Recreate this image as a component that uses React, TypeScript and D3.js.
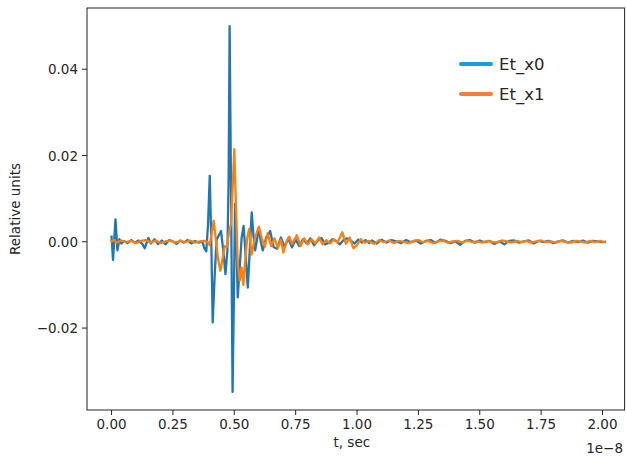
import React from "react";
import * as d3 from "d3";

// time in units of 1e-8 s, value in relative units
const etX0: [number, number][] = [
  [0.0, 0.0012], [0.006, -0.0042], [0.016, 0.0052], [0.024, -0.002], [0.032, 0.0006], [0.04, -0.0004],
  [0.05, 0.0002], [0.065, -0.0003], [0.08, 0.0004], [0.095, -0.0002], [0.11, 0.0003], [0.125, -0.0005],
  [0.135, -0.0015], [0.15, 0.0009], [0.16, -0.0004], [0.175, 0.0006], [0.19, -0.0005], [0.205, 0.0003],
  [0.22, -0.0006], [0.235, 0.0004], [0.25, 0.0001], [0.265, -0.0005], [0.28, 0.0003], [0.295, -0.0002],
  [0.31, 0.0004], [0.325, -0.0004], [0.34, 0.0002], [0.355, -0.0002], [0.37, 0.0001],
  [0.378, -0.0015], [0.386, -0.0022], [0.393, 0.004], [0.4, 0.0153], [0.406, 0.001], [0.412, -0.0187],
  [0.42, -0.008], [0.428, 0.0005], [0.446, 0.0025], [0.455, -0.002], [0.464, -0.0075], [0.472, -0.002],
  [0.477, 0.015], [0.481, 0.05], [0.487, 0.01], [0.493, -0.0348], [0.499, -0.01], [0.503, 0.0088],
  [0.508, 0.002], [0.514, -0.0129], [0.522, -0.006], [0.53, 0.001], [0.538, 0.0037], [0.546, -0.003],
  [0.555, -0.0106], [0.563, -0.002], [0.571, 0.0068], [0.578, 0.0015], [0.585, -0.002], [0.594, 0.001],
  [0.6, 0.0033], [0.608, 0.0], [0.616, -0.002], [0.63, 0.001], [0.646, 0.0025], [0.66, -0.0012],
  [0.674, -0.0016], [0.69, 0.001], [0.705, -0.0012], [0.72, 0.0008], [0.735, -0.0013], [0.75, 0.0005],
  [0.765, -0.001], [0.78, 0.0006], [0.795, -0.0004], [0.81, 0.0008], [0.825, -0.0008], [0.84, 0.0003],
  [0.855, 0.0009], [0.87, -0.0006], [0.885, -0.0002], [0.9, 0.0006], [0.915, 0.0002], [0.93, -0.0006],
  [0.945, 0.0004], [0.96, 0.0008], [0.975, 0.0002], [0.99, -0.0004], [1.005, 0.0005], [1.02, -0.0002],
  [1.035, 0.0004], [1.05, -0.0003],
  [1.06, 0.0003], [1.08, -0.0004], [1.1, 0.0005], [1.12, -0.0002], [1.14, 0.0004], [1.16, 0.0001],
  [1.18, -0.0003], [1.2, 0.0004], [1.22, -0.0001], [1.24, 0.0003], [1.26, -0.0004], [1.28, 0.0002],
  [1.3, 0.0004], [1.32, -0.0002], [1.34, 0.0005], [1.36, 0.0002], [1.38, -0.0003], [1.4, 0.0001],
  [1.42, -0.0007], [1.44, 0.0002], [1.46, 0.0004], [1.48, -0.0002], [1.5, 0.0003], [1.52, -0.0001],
  [1.54, 0.0002], [1.56, -0.0005], [1.58, 0.0001], [1.6, -0.0006], [1.62, 0.0002], [1.64, 0.0003],
  [1.66, -0.0002], [1.68, 0.0001], [1.7, 0.0003], [1.72, -0.0004], [1.74, 0.0002], [1.76, -0.0001],
  [1.78, 0.0002], [1.8, -0.0003], [1.82, 0.0001], [1.84, 0.0003], [1.86, -0.0002], [1.88, 0.0002],
  [1.9, -0.0001], [1.92, 0.0003], [1.94, -0.0002], [1.96, 0.0002], [1.98, 0.0001], [2.0, -0.0001], [2.01, 0.0],
];

const etX1: [number, number][] = [
  [0.0, 0.0001], [0.01, 0.0004], [0.02, -0.0002], [0.04, 0.0003], [0.06, -0.0001], [0.08, 0.0002],
  [0.1, -0.0003], [0.12, 0.0002], [0.14, 0.0004], [0.16, -0.0002], [0.18, 0.0003], [0.2, -0.0003],
  [0.22, 0.0001], [0.24, 0.0003], [0.26, -0.0002], [0.28, 0.0002], [0.3, -0.0001], [0.32, 0.0003],
  [0.34, -0.0002], [0.36, 0.0001], [0.38, 0.0002], [0.39, 0.0],
  [0.4, -0.0008], [0.408, 0.002], [0.416, 0.0049], [0.424, 0.001], [0.434, -0.004], [0.443, -0.0067],
  [0.452, -0.004], [0.461, -0.001], [0.47, -0.0012], [0.478, 0.002], [0.486, 0.004], [0.493, 0.012],
  [0.5, 0.0215], [0.507, 0.008], [0.514, -0.005], [0.522, -0.009], [0.53, -0.006], [0.537, -0.01],
  [0.545, -0.004], [0.553, 0.001], [0.561, 0.003], [0.57, -0.003], [0.585, 0.001], [0.6, 0.0035],
  [0.612, 0.0008], [0.624, -0.0012], [0.636, 0.002], [0.65, -0.001], [0.664, 0.0008], [0.678, -0.0015],
  [0.69, 0.0005], [0.7, -0.0025], [0.712, 0.0], [0.724, 0.0012], [0.735, -0.0005], [0.755, 0.0015],
  [0.77, -0.001], [0.785, 0.0008], [0.8, -0.0006], [0.815, 0.0006], [0.83, -0.0004], [0.845, 0.001],
  [0.86, -0.0006], [0.875, 0.0004], [0.89, -0.0004], [0.905, 0.0006], [0.92, -0.0002], [0.94, 0.0022],
  [0.955, -0.0005], [0.97, 0.001], [0.985, -0.0015], [1.0, -0.0008], [1.015, 0.0006], [1.03, -0.0002],
  [1.05, 0.0002], [1.07, -0.0005], [1.09, 0.0004], [1.11, -0.0001], [1.13, 0.0003], [1.15, -0.0003],
  [1.17, 0.0002], [1.19, 0.0], [1.21, -0.0003], [1.23, 0.0002], [1.25, 0.0004], [1.27, -0.0001],
  [1.29, 0.0002], [1.31, -0.0003], [1.33, 0.0001], [1.35, 0.0003], [1.37, -0.0002], [1.39, 0.0001],
  [1.41, 0.0002], [1.43, -0.0002], [1.45, 0.0003], [1.47, -0.0001], [1.49, 0.0001], [1.51, -0.0002],
  [1.53, 0.0002], [1.55, 0.0], [1.57, -0.0002], [1.59, 0.0003], [1.61, 0.0001], [1.63, -0.0002],
  [1.65, 0.0002], [1.67, -0.0001], [1.69, 0.0002], [1.71, -0.0002], [1.73, 0.0001], [1.75, 0.0003],
  [1.77, -0.0001], [1.79, 0.0001], [1.81, -0.0002], [1.83, 0.0002], [1.85, 0.0], [1.87, -0.0002],
  [1.89, 0.0002], [1.91, 0.0001], [1.93, -0.0002], [1.95, 0.0002], [1.97, -0.0001], [1.99, 0.0002], [2.01, -0.0001],
];

const xTicks = [0, 0.25, 0.5, 0.75, 1.0, 1.25, 1.5, 1.75, 2.0];
const yTicks = [-0.02, 0.0, 0.02, 0.04];
const seriesNames = ["Et_x0", "Et_x1"];
const seriesColors = ["#1f77b4", "#ff7f0e"];
const legendColors = ["#1b9be0", "#f37d3b"];

const W = 626;
const H = 457;
const L = 87, R = 624.6, T = 8, B = 410;
const FONT = "DejaVu Sans, sans-serif";
const TXT = "#262626";

export default function App() {
  const x = d3.scaleLinear().domain([-0.1, 2.09]).range([L, R]);
  const y = d3.scaleLinear().domain([-0.039, 0.0542]).range([B, T]);
  const line = d3
    .line<[number, number]>()
    .x((d) => x(d[0]))
    .y((d) => y(d[1]));
  const fmtY = (v: number) => (v < 0 ? "\u2212" : "") + Math.abs(v).toFixed(2);
  const series = [etX0, etX1];

  return (
    <svg
      width={W}
      height={H}
      style={{ position: "absolute", left: 0, top: 0, background: "#fff" }}
      fontFamily={FONT}
    >
      <rect x={0} y={0} width={W} height={H} fill="#fff" />
      <defs>
        <clipPath id="plot">
          <rect x={L} y={T} width={R - L} height={B - T} />
        </clipPath>
      </defs>
      <g clipPath="url(#plot)">
        {series.map((s, i) => (
          <path
            key={i}
            d={line(s) || ""}
            fill="none"
            stroke={seriesColors[i]}
            strokeWidth={2.3}
            strokeLinejoin="round"
            strokeLinecap="square"
          />
        ))}
      </g>
      <rect x={L} y={T} width={R - L} height={B - T} fill="none" stroke="#222" strokeWidth={1} />
      {xTicks.map((t) => (
        <g key={t}>
          <line x1={x(t)} x2={x(t)} y1={B} y2={B + 5} stroke="#222" strokeWidth={1} />
          <text x={x(t)} y={B + 19} textAnchor="middle" fontSize={13.5} fill={TXT}>
            {t.toFixed(2)}
          </text>
        </g>
      ))}
      {yTicks.map((t) => (
        <g key={t}>
          <line x1={L - 5} x2={L} y1={y(t)} y2={y(t)} stroke="#222" strokeWidth={1} />
          <text x={L - 9} y={y(t) + 5} textAnchor="end" fontSize={13.5} fill={TXT}>
            {fmtY(t)}
          </text>
        </g>
      ))}
      <text x={(L + R) / 2 - 4} y={447} textAnchor="middle" fontSize={13.5} fill={TXT}>
        t, sec
      </text>
      <text x={623} y={453} textAnchor="end" fontSize={13.5} fill={TXT}>
        1e{"\u2212"}8
      </text>
      <text
        transform={`translate(20, ${(T + B) / 2}) rotate(-90)`}
        textAnchor="middle"
        fontSize={13.5}
        fill={TXT}
      >
        Relative units
      </text>
      {seriesNames.map((n, i) => (
        <g key={n}>
          <line
            x1={461}
            x2={491}
            y1={64 + i * 30}
            y2={64 + i * 30}
            stroke={legendColors[i]}
            strokeWidth={4}
            strokeLinecap="round"
          />
          <text x={499} y={70 + i * 30} fontSize={16.5} fill={TXT}>
            {n}
          </text>
        </g>
      ))}
    </svg>
  );
}
